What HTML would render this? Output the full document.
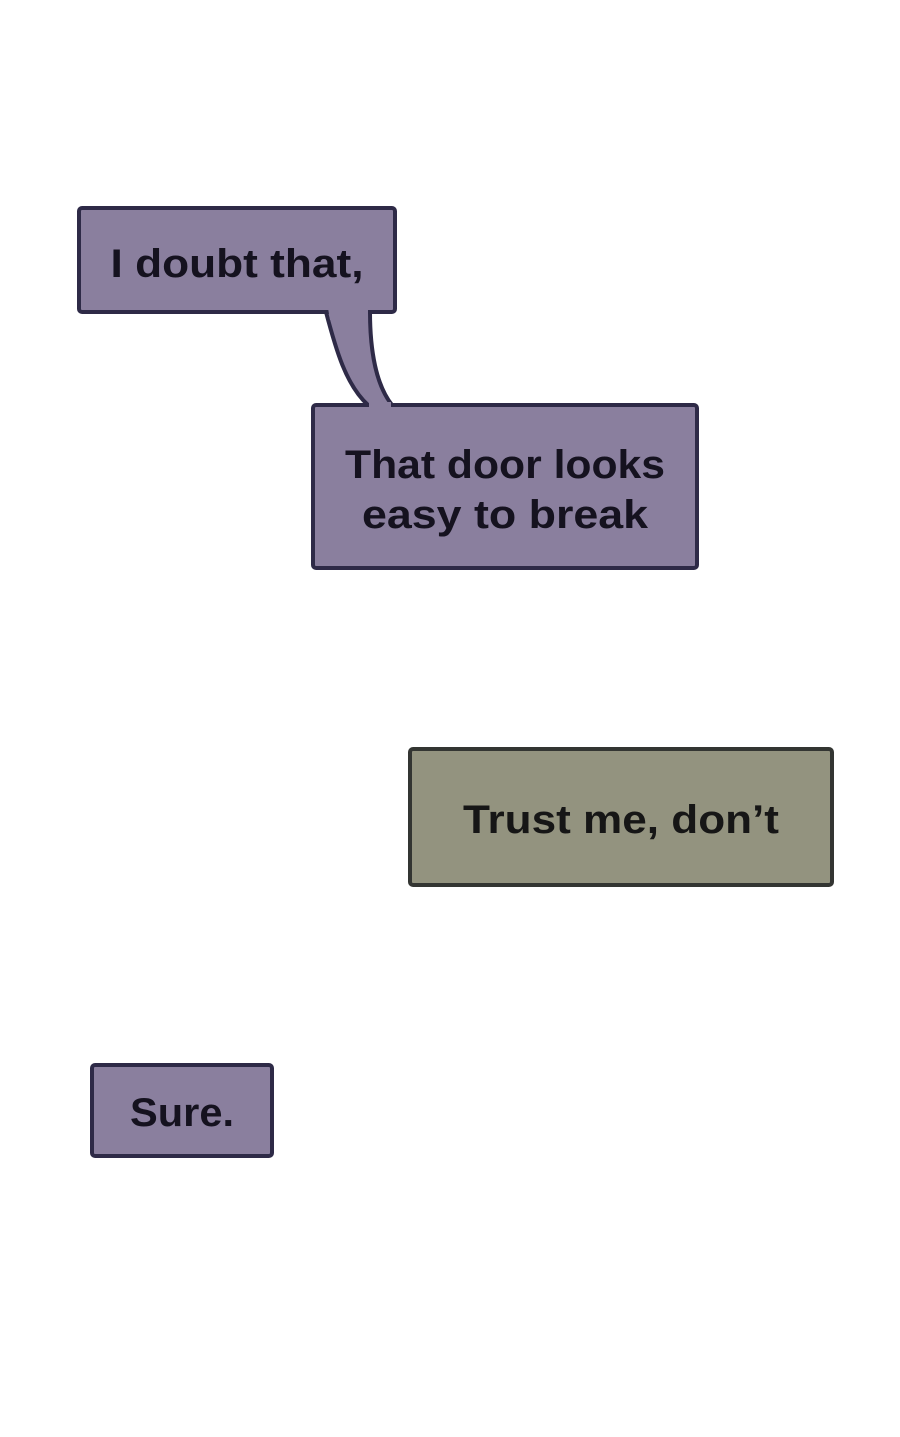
<!DOCTYPE html>
<html><head><style>html,body{margin:0;padding:0;background:#fff;width:900px;height:1437px;overflow:hidden}</style></head>
<body>
<svg width="900" height="1437" viewBox="0 0 900 1437" xmlns="http://www.w3.org/2000/svg" style="display:block">
<g fill="#8a7f9e" stroke="#2e2a47" stroke-width="4" stroke-linejoin="round">
<rect x="79" y="208" width="316" height="104" rx="3"/>
<rect x="313" y="405" width="384" height="163" rx="3"/>
<path d="M326 312 C336 350 346 385 368 405 L392 405 C376 385 370 350 370 312 Z"/>
<rect x="92" y="1065" width="180" height="91" rx="3"/>
</g>
<path d="M328 308 L368 308 L368 320 L330 320 Z" fill="#8a7f9e"/>
<path d="M370 409 C355 395 350 380 345 405 Z" fill="none"/>
<rect x="369" y="402" width="22" height="6" fill="#8a7f9e"/>
<rect x="410" y="749" width="422" height="136" rx="3" fill="#93937f" stroke="#333532" stroke-width="4"/>
<g font-family="Liberation Sans, sans-serif" font-weight="bold" fill="#15121f" text-anchor="middle" font-size="40">
<text x="237" y="277" textLength="253" lengthAdjust="spacingAndGlyphs">I doubt that,</text>
<text x="505" y="478" textLength="320" lengthAdjust="spacingAndGlyphs">That door looks</text>
<text x="505" y="528" textLength="286" lengthAdjust="spacingAndGlyphs">easy to break</text>
<text x="621" y="833" textLength="316" lengthAdjust="spacingAndGlyphs" fill="#161616">Trust me, don’t</text>
<text x="182" y="1126" textLength="104" lengthAdjust="spacingAndGlyphs">Sure.</text>
</g>
</svg>
</body></html>
